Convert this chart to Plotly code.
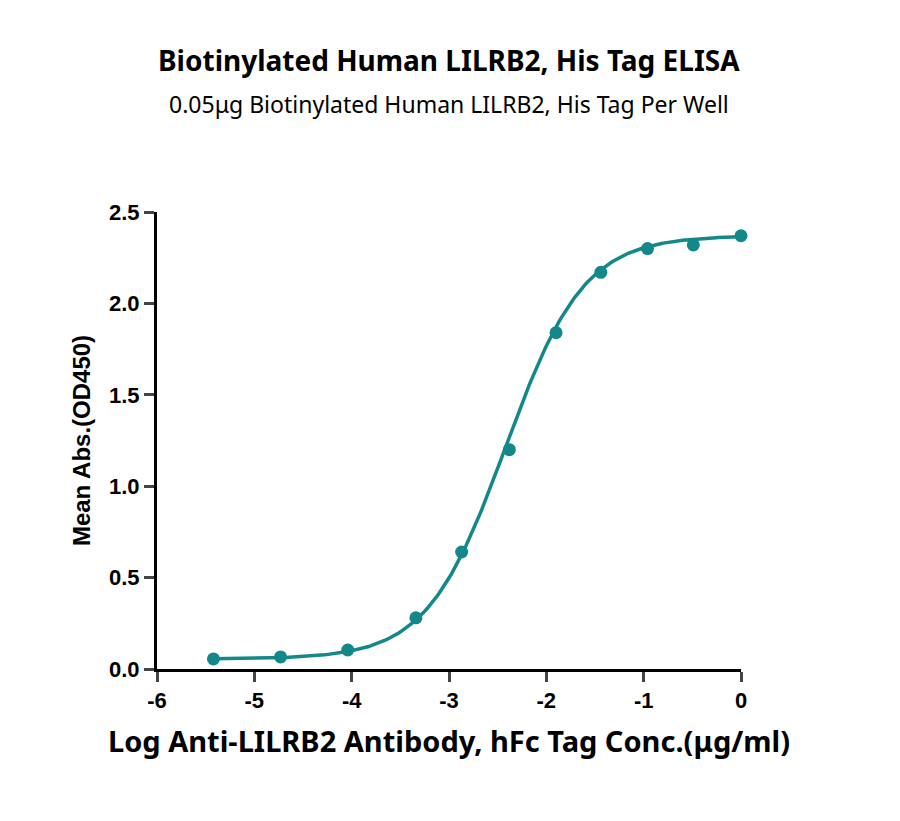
import numpy as np
import plotly.graph_objects as go

log_conc = [-5.42, -4.73, -4.04, -3.34, -2.87, -2.38, -1.90, -1.44, -0.96, -0.49, 0.0]
mean_abs = [0.055, 0.066, 0.104, 0.28, 0.64, 1.20, 1.84, 2.17, 2.30, 2.32, 2.37]
x_ticks = [-6, -5, -4, -3, -2, -1, 0]
y_ticks = [0.0, 0.5, 1.0, 1.5, 2.0, 2.5]

# 4PL fit parameters (estimated)
bottom, top, logec50, hill = 0.055, 2.37, -2.42, 1.08
xf = np.linspace(min(log_conc), max(log_conc), 300)
yf = bottom + (top - bottom) / (1 + 10 ** ((logec50 - xf) * hill))

c = "#12888a"
fig = go.Figure()
fig.add_trace(go.Scatter(x=xf, y=yf, mode="lines", line=dict(color=c, width=3.5), cliponaxis=False, hoverinfo="skip"))
fig.add_trace(go.Scatter(x=log_conc, y=mean_abs, mode="markers", marker=dict(color=c, size=13), cliponaxis=False))

fig.update_layout(
    width=900, height=821, showlegend=False, plot_bgcolor="white", paper_bgcolor="white",
    margin=dict(l=149, r=167, t=204, b=160),
)
fig.add_annotation(text="<b>Biotinylated Human LILRB2, His Tag ELISA</b>", xref="paper", yref="paper",
                   x=0.5, y=(669 - 60) / 457, xanchor="center", yanchor="middle", showarrow=False,
                   font=dict(family="Noto Sans", size=28, color="black"))
fig.add_annotation(text="0.05μg Biotinylated Human LILRB2, His Tag Per Well", xref="paper", yref="paper",
                   x=0.5, y=(669 - 104) / 457, xanchor="center", yanchor="middle", showarrow=False,
                   font=dict(family="Noto Sans", size=23, color="black"))
fig.update_xaxes(range=[-6, 0], tickvals=x_ticks, ticktext=["<b>%d</b>" % v for v in x_ticks],
                 showline=True, linecolor="black", linewidth=3, ticks="outside", tickwidth=3, ticklen=10,
                 showgrid=False, zeroline=False,
                 tickfont=dict(family="Liberation Sans", size=22, color="black"),
                 title=dict(text="<b>Log Anti-LILRB2 Antibody, hFc Tag Conc.(μg/ml)</b>", standoff=20,
                            font=dict(family="Noto Sans", size=29, color="black")))
fig.update_yaxes(range=[0, 2.5], tickvals=y_ticks, ticktext=["<b>%.1f</b>" % v for v in y_ticks],
                 showline=True, linecolor="black", linewidth=3, ticks="outside", tickwidth=3, ticklen=10,
                 showgrid=False, zeroline=False,
                 tickfont=dict(family="Liberation Sans", size=22, color="black"),
                 title=dict(text="<b>Mean Abs.(OD450)</b>", standoff=12,
                            font=dict(family="Liberation Sans", size=24, color="black")))
fig.write_html("out.html")
